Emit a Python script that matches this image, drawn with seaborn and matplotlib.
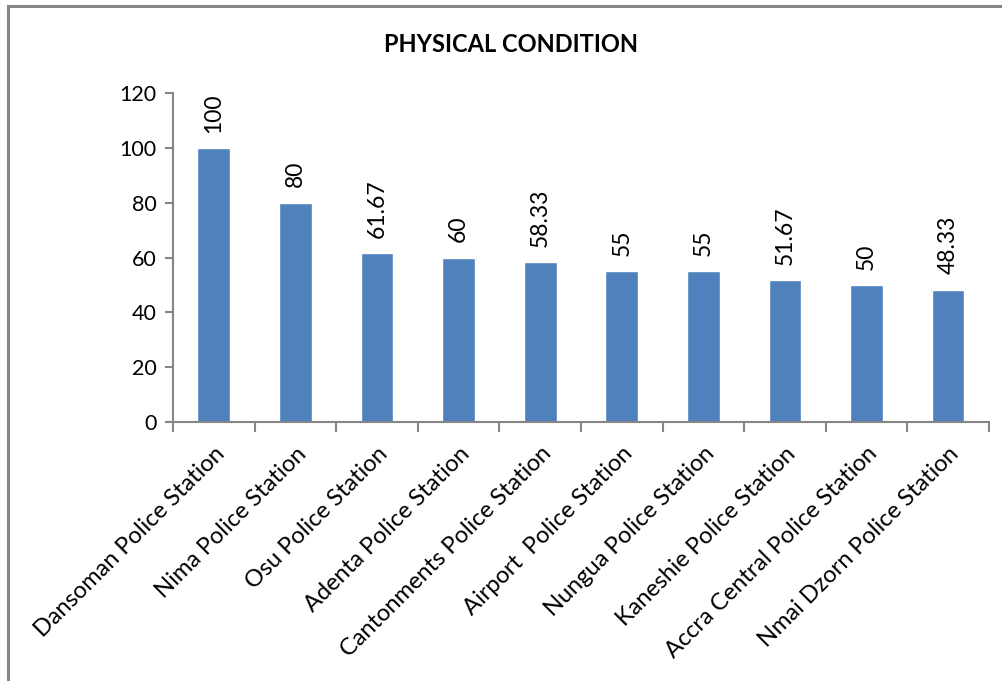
import matplotlib
matplotlib.use("Agg")
import matplotlib.pyplot as plt
import seaborn as sns
import pandas as pd
from matplotlib.patches import Rectangle
from matplotlib.ticker import FixedLocator

stations = [
    "Dansoman Police Station",
    "Nima Police Station",
    "Osu Police Station",
    "Adenta Police Station",
    "Cantonments Police Station",
    "Airport  Police Station",
    "Nungua Police Station",
    "Kaneshie Police Station",
    "Accra Central Police Station",
    "Nmai Dzorn Police Station",
]
scores = [100, 80, 61.67, 60, 58.33, 55, 55, 51.67, 50, 48.33]
score_labels = ["100", "80", "61.67", "60", "58.33", "55", "55", "51.67", "50", "48.33"]
y_ticks = [0, 20, 40, 60, 80, 100, 120]

sns.set_theme(style="white")
plt.rcParams["font.family"] = ["Lato", "DejaVu Sans"]

df = pd.DataFrame({"station": stations, "score": scores})

fig = plt.figure(figsize=(10.03, 6.81), dpi=100)
ax = fig.add_axes([0.1725, 0.3803, 0.8135, 0.4831])

sns.barplot(data=df, x="station", y="score", color="#4F81BD", saturation=1,
            width=0.4, ax=ax)

axis_grey = "#868686"
ax.set_xlim(-0.5, len(stations) - 0.5)
ax.set_ylim(0, 120)
ax.set_yticks(y_ticks)
ax.set_xlabel("")
ax.set_ylabel("")

for side in ("top", "right"):
    ax.spines[side].set_visible(False)
for side in ("left", "bottom"):
    ax.spines[side].set_color(axis_grey)
    ax.spines[side].set_linewidth(1.5)

ax.tick_params(axis="y", direction="out", length=6, width=1.5, color=axis_grey,
               labelsize=15.5, labelcolor="black", pad=6, left=True)
ax.set_xticks(range(len(stations)))
ax.set_xticklabels(stations, rotation=45, ha="right", rotation_mode="anchor")
ax.tick_params(axis="x", which="major", length=0, labelsize=17,
               labelcolor="black", pad=15)
ax.xaxis.set_minor_locator(FixedLocator([i - 0.5 for i in range(len(stations) + 1)]))
ax.tick_params(axis="x", which="minor", direction="out", length=7, width=1.5,
               color=axis_grey, bottom=True)

ax.bar_label(ax.containers[0], labels=score_labels, rotation=90, padding=11,
             fontsize=16.5, color="black")

fig.text(0.509, 0.934, "PHYSICAL CONDITION", ha="center", va="center",
         fontsize=17, fontweight="bold", color="black")

# outer frame around the chart area
fig.patches.append(Rectangle((8 / 1003, -0.05), 1.1, 1.05 - 6 / 681,
                             transform=fig.transFigure, fill=False,
                             edgecolor=axis_grey, linewidth=2.2))

fig.savefig("out.png", dpi=100, facecolor="white")
